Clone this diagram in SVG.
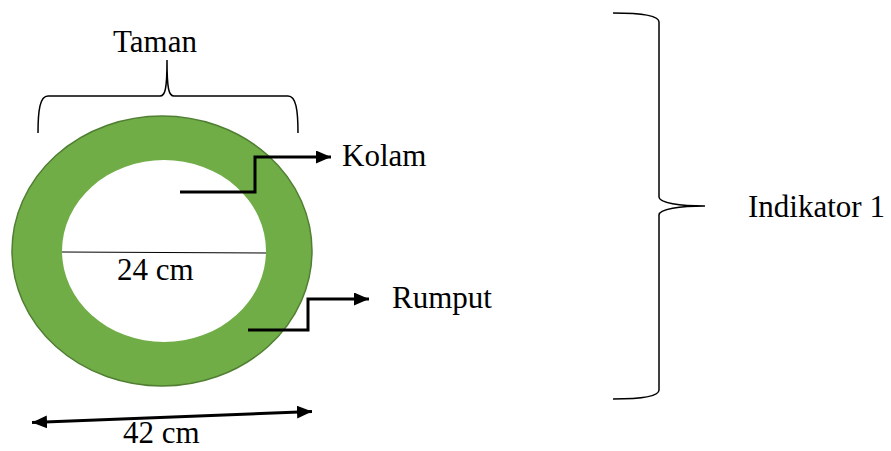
<svg xmlns="http://www.w3.org/2000/svg" width="891" height="451" viewBox="0 0 891 451">
<style>
text{font-family:"Liberation Serif","Times New Roman",serif;font-size:31px;fill:#000}
.ln{fill:none;stroke:#000;stroke-width:1.5}
.conn{fill:none;stroke:#000;stroke-width:3}
</style>
<defs>
<marker id="ah" viewBox="0 0 15 13" refX="15" refY="6.5" markerWidth="15" markerHeight="13" markerUnits="userSpaceOnUse" orient="auto-start-reverse">
<path d="M0,0 L15,6.5 L0,13 z" fill="#000"/>
</marker>
</defs>
<rect width="891" height="451" fill="#fff"/>
<g id="taman">
<ellipse cx="162" cy="251" rx="150" ry="135" fill="#70AD47" stroke="#507E32" stroke-width="1.5"/>
<ellipse cx="164" cy="251" rx="102" ry="91" fill="#fff"/>
<line x1="62" y1="252" x2="266" y2="253" stroke="#000" stroke-width="1"/>
<text x="117" y="280">24 cm</text>
</g>
<g id="taman-brace">
<path class="ln" d="M38,133 C38,110 40,96 48,96 L160,96 C165,96 167,90 167,60 C167,90 169,96 174,96 L288,96 C296,96 298,110 298,133"/>
<text x="113" y="52">Taman</text>
</g>
<g id="kolam"><text x="342" y="166">Kolam</text></g>
<g id="rumput"><text x="392" y="308">Rumput</text></g>
<g id="indikator">
<path class="ln" d="M613,13 C640,13 659,15 659,22 L659,197 C659,203 680,206 705,206 C680,206 659,209 659,215 L659,390 C659,397 640,399 613,399"/>
<text x="748" y="217">Indikator 1</text>
</g>
<g id="connectors">
<path class="conn" d="M180,192 L255,192 L255,157 L331,157" marker-end="url(#ah)"/>
<path class="conn" d="M248,330 L308,330 L308,299 L369,299" marker-end="url(#ah)"/>
<line class="conn" x1="32" y1="422.5" x2="312" y2="411.5" marker-start="url(#ah)" marker-end="url(#ah)"/>
<text x="123" y="443">42 cm</text>
</g>
</svg>
